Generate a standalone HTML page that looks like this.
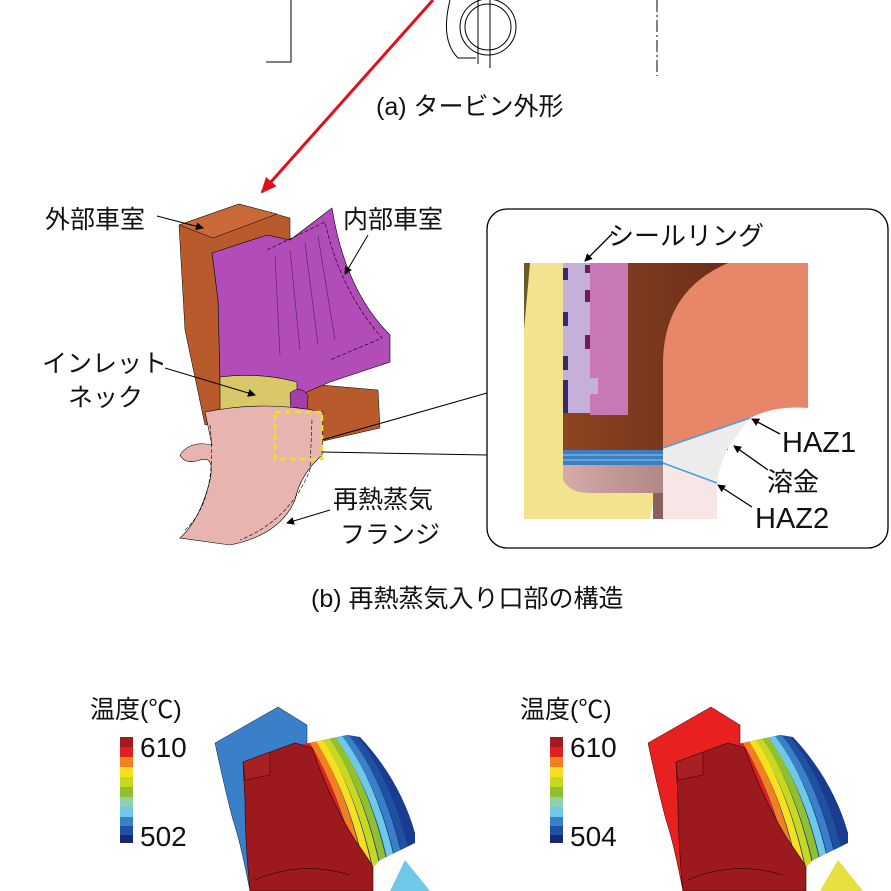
<!DOCTYPE html>
<html><head><meta charset="utf-8"><style>
html,body{margin:0;padding:0;background:#fff;}
svg{display:block;}
text{font-family:"Liberation Sans","Noto Sans CJK JP",sans-serif;fill:#111;}
</style></head><body>
<svg width="891" height="891" viewBox="0 0 891 891" xmlns="http://www.w3.org/2000/svg">
<defs>
<marker id="ah" markerWidth="8" markerHeight="8" refX="7" refY="4" orient="auto" markerUnits="userSpaceOnUse"><path d="M0,0 L8,4 L0,8 z" fill="#000"/></marker>
<marker id="ahr" markerWidth="16" markerHeight="14" refX="14" refY="7" orient="auto" markerUnits="userSpaceOnUse"><path d="M0,0 L16,7 L0,14 z" fill="#e0101a"/></marker>
<linearGradient id="brg" x1="0" x2="1"><stop offset="0" stop-color="#8e4422"/><stop offset="1" stop-color="#6a2e18"/></linearGradient>
<linearGradient id="pkg" x1="0" x2="1"><stop offset="0" stop-color="#d6aaa8"/><stop offset="1" stop-color="#b08886"/></linearGradient>
<clipPath id="rbL"><path d="M300,745 L347,735 L360,737 Q400,780 415,833 L415,843 L380,860 L372,868 Q330,800 300,745 z"/></clipPath>
</defs>

<!-- (a) top -->
<g fill="none" stroke="#000" stroke-width="1">
<path d="M291,0 V62 H266"/>
<path d="M450,0 Q440,40 458,58 H476"/>
<circle cx="488" cy="27" r="23"/>
<circle cx="488" cy="27" r="28"/>
<path d="M478,0 V64 M490,0 V68"/>
<path d="M657,0 V76" stroke-dasharray="12,3,2,3"/>
</g>
<line x1="433" y1="0" x2="262" y2="192" stroke="#e0101a" stroke-width="3" marker-end="url(#ahr)"/>
<text x="376" y="115" font-size="25">(a) タービン外形</text>

<!-- (b) 3D model -->
<polygon points="179,225 239,204 290,218 290,400 205,425 185,330" fill="#b85a2c" stroke="#000" stroke-width="0.5"/>
<polygon points="179,225 239,204 277,214 213,238" fill="#c9693a" stroke="#000" stroke-width="0.5"/>
<polygon points="287,382 378,390 380,428 310,444 288,440" fill="#b85a2c" stroke="#000" stroke-width="0.5"/>
<path d="M212,253 L267,235 L290,240 L332,208 Q345,290 390,335 L390,362 L330,382 L300,395 L220,382 L218,300 Z" fill="#b24cb8" stroke="#000" stroke-width="0.6"/>
<path d="M267,250 L325,222 Q340,290 382,338 L330,360" fill="none" stroke="#000" stroke-width="0.6" stroke-dasharray="4,2"/>
<path d="M275,255 L280,355 M290,250 L300,350 M305,243 L318,345 M318,236 L335,340" stroke="#5a1a5e" stroke-width="0.6" fill="none"/>
<path d="M220,377 Q260,372 297,382 L297,425 Q258,418 220,422 Z" fill="#d8c86a" stroke="#000" stroke-width="0.6"/>
<path d="M290,393 Q300,385 308,395 L306,440 L292,440 Z" fill="#a040a8" stroke="#000" stroke-width="0.5"/>
<path d="M205,412 Q265,400 323,412 L322,455 Q300,475 295,500 Q280,535 230,545 L180,538 Q200,520 210,480 Q215,455 200,460 Q185,465 180,455 Q190,440 212,445 Z" fill="#e8b4b0" stroke="#000" stroke-width="0.6"/>
<path d="M210,425 Q218,500 185,530 M312,420 L310,470 Q290,520 240,540" fill="none" stroke="#000" stroke-width="0.6" stroke-dasharray="4,2"/>
<rect x="275" y="412" width="47" height="47" fill="none" stroke="#f0e020" stroke-width="2.5" stroke-dasharray="6,4"/>
<line x1="322" y1="440" x2="487" y2="393" stroke="#000" stroke-width="1"/>
<line x1="322" y1="452" x2="487" y2="455" stroke="#000" stroke-width="1"/>

<text x="45" y="228" font-size="25">外部車室</text>
<line x1="157" y1="216" x2="203" y2="228" stroke="#000" marker-end="url(#ah)"/>
<text x="343" y="228" font-size="25">内部車室</text>
<line x1="368" y1="235" x2="345" y2="274" stroke="#000" marker-end="url(#ah)"/>
<text x="42" y="372" font-size="25">インレット</text>
<text x="68" y="406" font-size="25">ネック</text>
<line x1="165" y1="368" x2="255" y2="395" stroke="#000" marker-end="url(#ah)"/>
<text x="333" y="508" font-size="25">再熱蒸気</text>
<text x="340" y="543" font-size="25">フランジ</text>
<line x1="330" y1="510" x2="287" y2="523" stroke="#000" marker-end="url(#ah)"/>

<!-- inset -->
<rect x="487" y="209" width="401" height="339" rx="20" fill="#fff" stroke="#000" stroke-width="1.3"/>
<rect x="524" y="263" width="39" height="256" fill="#f3e28e"/>
<polygon points="524,263 530,263 524,330" fill="#6a5a2a"/>
<rect x="563" y="263" width="165" height="187" fill="url(#brg)"/>
<rect x="563" y="263" width="27" height="150" fill="#c4b0d8"/>
<g fill="#3a2870"><rect x="563" y="268" width="5" height="12"/><rect x="563" y="312" width="5" height="14"/><rect x="563" y="356" width="5" height="14"/><rect x="563" y="380" width="5" height="33"/></g>
<g fill="#701a60"><rect x="585" y="265" width="5" height="8"/><rect x="585" y="290" width="5" height="12"/><rect x="585" y="335" width="5" height="14"/></g>
<rect x="590" y="263" width="38" height="152" fill="#c878b4"/>
<rect x="590" y="378" width="8" height="16" fill="#c4b0d8"/>
<path d="M728,263 L808,263 L808,408 Q775,405 750,418 L663,448 L663,360 Q665,290 728,263 Z" fill="#e8866a"/>
<rect x="563" y="450" width="100" height="15" fill="#3a7fc4"/>
<line x1="563" y1="455" x2="663" y2="455" stroke="#9cc4e8"/><line x1="563" y1="460" x2="663" y2="460" stroke="#9cc4e8"/>
<rect x="563" y="465" width="100" height="28" fill="url(#pkg)"/>
<path d="M563,465 L563,480 Q570,493 590,493 L655,493 L650,519 L563,519 Z" fill="#f3e28e"/>
<rect x="653" y="493" width="10" height="26" fill="#8a6060"/>
<path d="M663,448 L750,418 Q733,440 727,450 Q718,470 717,483 L663,463 Z" fill="#ececec"/>
<path d="M663,463 L717,483 L717,519 L663,519 Z" fill="#f8e6e6"/>
<path d="M663,448 L750,418" stroke="#4aa0d8" stroke-width="1.5"/>
<path d="M663,463 L717,483" stroke="#4aa0d8" stroke-width="1.5"/>
<line x1="612" y1="234" x2="585" y2="261" stroke="#000" stroke-width="1.3" marker-end="url(#ah)"/>
<text x="608" y="245" font-size="26">シールリング</text>
<text x="782" y="452" font-size="29">HAZ1</text>
<text x="767" y="491" font-size="26">溶金</text>
<text x="755" y="528" font-size="29">HAZ2</text>
<line x1="780" y1="434" x2="752" y2="419" stroke="#000" stroke-width="1.3" marker-end="url(#ah)"/>
<line x1="768" y1="470" x2="734" y2="446" stroke="#000" stroke-width="1.3" marker-end="url(#ah)"/>
<line x1="752" y1="507" x2="718" y2="485" stroke="#000" stroke-width="1.3" marker-end="url(#ah)"/>

<text x="311" y="607" font-size="25">(b) 再熱蒸気入り口部の構造</text>

<!-- bottom contour plots -->
<text x="90" y="718" font-size="25">温度(℃)</text>
<g>
<rect x="120" y="737" width="13" height="10" fill="#a01c20"/>
<rect x="120" y="747" width="13" height="10" fill="#e02020"/>
<rect x="120" y="757" width="13" height="10" fill="#f08020"/>
<rect x="120" y="767" width="13" height="10" fill="#f8e020"/>
<rect x="120" y="777" width="13" height="10" fill="#c8d820"/>
<rect x="120" y="787" width="13" height="10" fill="#90c030"/>
<rect x="120" y="797" width="13" height="10" fill="#90d0b0"/>
<rect x="120" y="807" width="13" height="10" fill="#70c8e8"/>
<rect x="120" y="817" width="13" height="9" fill="#3a80c8"/>
<rect x="120" y="826" width="13" height="9" fill="#2050a0"/>
<rect x="120" y="835" width="13" height="8" fill="#182870"/>
</g>
<text x="140" y="757" font-size="28">610</text>
<text x="140" y="846" font-size="28">502</text>

<path d="M215,743 L278,707 L307,725 L307,891 L250,891 Q240,840 233,820 Q225,790 215,743 Z" fill="#3a80c8" stroke="#123" stroke-width="0.5"/>
<g id="inner">
<path d="M390,891 L405,860 L430,891 Z" fill="#70c8e8"/>
<path d="M300,745 L347,735 L360,737 Q400,780 415,833 L415,843 L380,860 L372,868 Q330,800 300,745 z" fill="#1a3c90"/>
<g clip-path="url(#rbL)" fill="none" stroke-width="7">
<path d="M345,728 Q385,770 405,850" stroke="#2050a0"/>
<path d="M338,728 Q378,772 398,855" stroke="#3a80c8"/>
<path d="M331,728 Q371,774 391,860" stroke="#70c8e8"/>
<path d="M324,728 Q364,776 384,865" stroke="#90c030"/>
<path d="M317,728 Q357,778 377,870" stroke="#c8d820"/>
<path d="M310,728 Q350,780 370,875" stroke="#f8e020"/>
<path d="M303,728 Q343,782 363,880" stroke="#f08020"/>
<path d="M296,728 Q336,784 356,885" stroke="#e02020"/>
</g>
<path d="M243,762 L295,743 L312,748 Q330,800 355,840 Q368,858 373,867 L373,891 L250,891 Q245,840 245,800 Z" fill="#9c1a1e" stroke="#300" stroke-width="0.6"/>
<path d="M243,762 L270,752 L270,775 L245,780 Z" fill="#a82024" stroke="#300" stroke-width="0.5"/>
<path d="M255,880 Q300,860 350,875" fill="none" stroke="#300" stroke-width="0.6"/>
</g>

<!-- right plot -->
<g transform="translate(430,0)">
<text x="90" y="718" font-size="25">温度(℃)</text>
<rect x="120" y="737" width="13" height="10" fill="#a01c20"/>
<rect x="120" y="747" width="13" height="10" fill="#e02020"/>
<rect x="120" y="757" width="13" height="10" fill="#f08020"/>
<rect x="120" y="767" width="13" height="10" fill="#f8e020"/>
<rect x="120" y="777" width="13" height="10" fill="#c8d820"/>
<rect x="120" y="787" width="13" height="10" fill="#90c030"/>
<rect x="120" y="797" width="13" height="10" fill="#90d0b0"/>
<rect x="120" y="807" width="13" height="10" fill="#70c8e8"/>
<rect x="120" y="817" width="13" height="9" fill="#3a80c8"/>
<rect x="120" y="826" width="13" height="9" fill="#2050a0"/>
<rect x="120" y="835" width="13" height="8" fill="#182870"/>
<text x="140" y="757" font-size="28">610</text>
<text x="140" y="846" font-size="28">504</text>
</g>
<g transform="translate(433,0)">
<path d="M215,743 L278,707 L307,725 L307,891 L250,891 Q240,840 233,820 Q225,790 215,743 Z" fill="#e82020" stroke="#300" stroke-width="0.5"/>
<use href="#inner"/>
</g>
<path d="M838,860 L863,891 L820,891 Z" fill="#e8e040"/>
</svg>
</body></html>
